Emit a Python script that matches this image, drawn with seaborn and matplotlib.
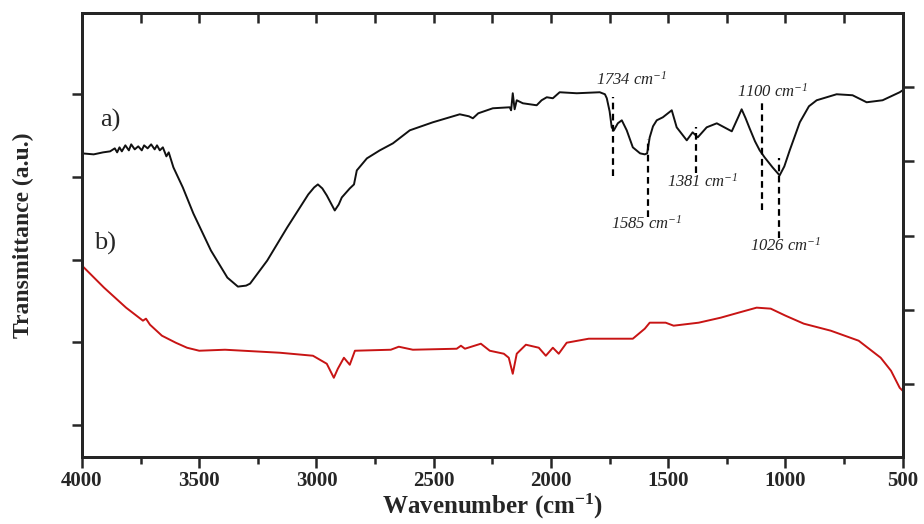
import numpy as np
import pandas as pd
import matplotlib
matplotlib.use("Agg")
import matplotlib.pyplot as plt
import seaborn as sns

# ---------------- data ----------------
wn_a = [4000, 3950, 3910, 3880, 3860, 3850, 3840, 3830, 3815, 3800, 3790, 3775,
        3760, 3745, 3735, 3720, 3705, 3690, 3680, 3668, 3655, 3640, 3630, 3610,
        3570, 3525, 3450, 3380, 3335, 3300, 3283, 3210, 3125, 3035, 3010, 2994, 2975, 2956,
        2922, 2905, 2892, 2858, 2840, 2828, 2785, 2730, 2674, 2602, 2504, 2389, 2350, 2333,
        2310, 2248, 2176, 2170, 2163, 2155, 2146, 2120, 2061, 2040, 2018, 1992,
        1963, 1890, 1792, 1770, 1762, 1750, 1741, 1732, 1715, 1698, 1677, 1651, 1620, 1600, 1590, 1579,
        1565, 1549, 1523, 1485, 1464, 1421, 1396, 1374, 1336, 1293, 1229, 1200, 1187, 1170, 1153,
        1130, 1110, 1089, 1055, 1025, 1005, 982, 939, 900, 867, 782, 714, 654, 586, 513, 500]
t_a = [303, 302, 304, 305, 308, 304, 309, 305, 311, 306, 312, 307,
       310, 306, 311, 308, 312, 307, 311, 306, 309, 300, 304, 289,
       269, 243, 206, 179, 170, 171, 173, 196, 229, 262, 269, 272, 268, 261,
       246, 252, 259, 268, 272, 286, 298, 306, 313, 326, 334, 342, 340, 338,
       343, 348, 349, 346, 363, 347, 356, 353, 351, 356, 359, 358,
       364, 363, 364, 362, 358, 345, 329, 326, 333, 336, 326, 309, 303, 302, 303, 319,
       330, 336, 339, 346, 329, 316, 324, 319, 329, 333, 325, 340, 347, 338, 328,
       315, 306, 299, 289, 281, 290, 306, 334, 350, 356, 362, 361, 354, 356, 364, 366]

wn_b = [4000, 3906, 3812, 3740, 3727, 3710, 3659, 3600, 3552, 3500, 3390, 3156, 3015,
        2956, 2926, 2909, 2883, 2858, 2836, 2683, 2649, 2589, 2402, 2384, 2367,
        2299, 2261, 2201, 2180, 2163, 2146, 2107, 2052, 2022, 1992, 1967, 1933,
        1839, 1651, 1600, 1579, 1511, 1477, 1370, 1276, 1200, 1123, 1063, 1000, 922, 807, 688,
        594, 550, 513, 500]
t_b = [191, 169, 149, 136, 138, 132, 121, 114, 109, 106, 107, 104, 101,
       93, 79, 88, 99, 92, 106, 107, 110, 107, 108, 111, 108,
       113, 106, 103, 99, 83, 103, 112, 109, 101, 109, 103, 114,
       118, 118, 128, 134, 134, 131, 134, 139, 144, 149, 148, 141, 133, 126, 116,
       99, 86, 69, 66]

peak_wn = [1734, 1585, 1381, 1100, 1026]
peak_lo = [280, 239, 283, 246, 219]
peak_hi = [359, 317, 329, 354, 298]
peak_labels = ["1734 cm$^{-1}$", "1585 cm$^{-1}$", "1381 cm$^{-1}$",
               "1100 cm$^{-1}$", "1026 cm$^{-1}$"]
label_x = [1656, 1590, 1355, 1055, 1000]
label_y = [376, 233, 275, 364, 211]

series_names = ["a)", "b)"]
series_label_x = [3880, 3900]
series_label_y = [336, 213]

x_major = [4000, 3500, 3000, 2500, 2000, 1500, 1000, 500]
x_minor = [3750, 3250, 2750, 2250, 1750, 1250, 750]
y_lim = (0, 443)
left_ticks = [32, 114.5, 197, 279.5, 362]
right_ticks = [73, 147, 221, 295, 369]

# ---------------- styling ----------------
sns.set_style("ticks")
plt.rcParams["font.family"] = ["Liberation Serif", "DejaVu Serif"]
plt.rcParams["mathtext.fontset"] = "custom"
plt.rcParams["mathtext.default"] = "regular"
plt.rcParams["mathtext.rm"] = "Liberation Serif"
plt.rcParams["mathtext.it"] = "Liberation Serif:italic"
plt.rcParams["mathtext.bf"] = "Liberation Serif:bold"

df = pd.concat([
    pd.DataFrame({"wn": wn_a, "T": t_a, "s": "a"}),
    pd.DataFrame({"wn": wn_b, "T": t_b, "s": "b"}),
])

fig = plt.figure(figsize=(9.24, 5.24), dpi=100)
ax = fig.add_axes([0.0887, 0.128, 0.8883, 0.847])

sns.lineplot(data=df, x="wn", y="T", hue="s", palette={"a": "#111111", "b": "#c81414"},
             estimator=None, sort=True, legend=False, ax=ax, linewidth=1.4)

ax.set_xlim(4000, 500)
ax.set_ylim(*y_lim)

# dashed peak markers and labels
for w, lo, hi, lab, lx, ly in zip(peak_wn, peak_lo, peak_hi, peak_labels, label_x, label_y):
    ax.plot([w, w], [lo, hi], color="black", linestyle=(0, (3, 2)), linewidth=1.6)
    ax.text(lx, ly, lab, fontsize=12, style="italic", ha="center", va="center")

for name, sx, sy in zip(series_names, series_label_x, series_label_y):
    ax.text(sx, sy, name, fontsize=19, ha="center", va="center")

# bottom axis ticks
ax.set_xticks(x_major)
ax.set_xticks(x_minor, minor=True)
ax.set_xticklabels([str(v) for v in x_major], fontsize=15, fontweight="bold")
ax.tick_params(axis="x", which="major", direction="out", length=8, width=1.8, pad=2)
ax.tick_params(axis="x", which="minor", direction="out", length=5, width=1.8)
# left axis ticks (no labels)
ax.set_yticks(left_ticks)
ax.set_yticklabels([])
ax.tick_params(axis="y", direction="out", length=7, width=1.8)

ax.set_xlabel("Wavenumber (cm$^{-1}$)", fontsize=18, fontweight="bold", labelpad=1)
ax.set_ylabel("Transmittance (a.u.)", fontsize=17, fontweight="bold", labelpad=24)

for sp in ax.spines.values():
    sp.set_linewidth(2)
    sp.set_visible(True)
    sp.set_color("black")

# right axis ticks
axr = ax.twinx()
axr.set_ylim(*y_lim)
axr.set_yticks(right_ticks)
axr.set_yticklabels([])
axr.tick_params(axis="y", direction="out", length=8, width=1.8)

# top axis ticks (inward)
axt = ax.twiny()
axt.set_xlim(4000, 500)
axt.set_xticks(x_major + x_minor)
axt.set_xticklabels([])
axt.tick_params(axis="x", direction="in", length=7, width=1.8)

for a in (axr, axt):
    for sp in a.spines.values():
        sp.set_linewidth(2)

fig.savefig("out.png", dpi=100)
